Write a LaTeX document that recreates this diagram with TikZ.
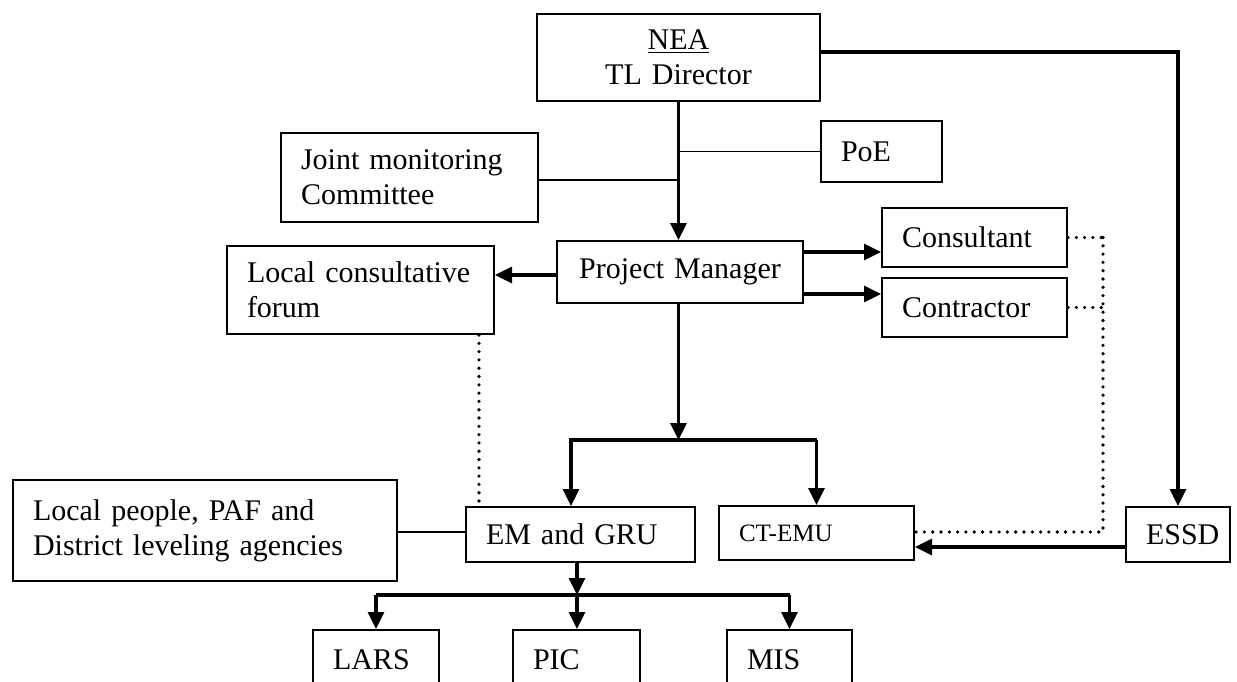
\documentclass[tikz,border=0pt]{standalone}
\usepackage{fontspec}
\setmainfont[WordSpace=0.75]{Liberation Serif}
\usetikzlibrary{arrows.meta}
\begin{document}
\begin{tikzpicture}[x=0.5pt,y=-0.5pt,
  box/.style={draw, line width=1pt, inner sep=0pt, inner xsep=10pt, font=\fontsize{15}{17.5}\selectfont},
  lbox/.style={box, align=left},
  cbox/.style={box, align=center},
  arr/.style={line width=1.6pt, -{Triangle[length=8.5pt,width=8pt]}},
  conn/.style={line width=1.6pt},
  thinc/.style={line width=0.9pt},
  dots/.style={line width=1.8pt, line cap=round, dash pattern=on 0pt off 4.15pt}]
\useasboundingbox (0,0) rectangle (1237,681);
\clip (0,0) rectangle (1237,681);
% nodes
\node[cbox, text width=121.5pt, minimum height=43.5pt] (nea) at (678.5,57.5) {\underline{NEA}\\TL Director};
\node[lbox, text width=40.5pt, minimum height=30.5pt] (poe) at (881.5,151.5) {PoE};
\node[lbox, text width=108.5pt, minimum height=44.5pt] (jmc) at (409.5,177.5) {Joint~monitoring\\Committee};
\node[cbox, text width=103pt, minimum height=31pt] (pm) at (680,272) {Project~Manager};
\node[lbox, text width=113.5pt, minimum height=44pt] (lcf) at (360.5,290) {Local~consultative\\forum};
\node[lbox, text width=72.5pt, minimum height=29.5pt] (cons) at (974.5,237.5) {Consultant};
\node[lbox, text width=72.5pt, minimum height=29.5pt] (cont) at (974.5,307.5) {Contractor};
\node[lbox, text width=172pt, minimum height=50.5pt] (loc) at (205,530.5) {Local~people,~PAF~and\\District~leveling~agencies};
\node[lbox, text width=94.5pt, minimum height=27.5pt] (em) at (580.5,534.5) {EM~and~GRU};
\node[lbox, text width=77.5pt, minimum height=27pt, font=\fontsize{12.5}{15}\selectfont] (ct) at (816.5,533) {CT-EMU};
\node[cbox, text width=32pt, minimum height=27.5pt] (essd) at (1178,534.5) {ESSD};
\node[lbox, text width=43pt, minimum height=30pt] (lars) at (376,660) {LARS};
\node[lbox, text width=43.5pt, minimum height=30pt] (pic) at (576.5,660) {PIC};
\node[lbox, text width=42.5pt, minimum height=30pt] (mis) at (789.5,660) {MIS};
% coordinates
\coordinate (jm) at (678.5,180);
\coordinate (es) at (1178,52);
\coordinate (lf) at (0,275);
\coordinate (c1) at (0,252);
\coordinate (c2) at (0,294);
\coordinate (br) at (678.5,440);
\coordinate (bl) at (571,440);
\coordinate (brr) at (816.5,440);
\coordinate (d1) at (479,0);
\coordinate (dv) at (1103,0);
\coordinate (dc) at (1103,532);
\coordinate (ea) at (0,547);
\coordinate (lm) at (0,532);
\coordinate (eb) at (577,595);
% connectors
\draw[arr] (nea.south) -- (nea.south |- pm.north);
\draw[thinc] (nea.south |- poe.west) -- (poe.west);
\draw[thinc] (jmc.east |- jm) -- (jm);
\draw[arr] (nea.east |- es) -- (es) -- (essd.north);
\draw[arr] (pm.west |- lf) -- (lcf.east |- lf);
\draw[arr] (pm.east |- c1) -- (cons.west |- c1);
\draw[arr] (pm.east |- c2) -- (cont.west |- c2);
\draw[arr] (pm.south -| br) -- (br);
\draw[arr] (brr) -- (bl) -- (bl |- em.north);
\draw[arr] (brr) -- (ct.north);
\draw[dots] (lcf.south -| d1) -- (d1 |- em.north);
\draw[dots] (cons.east) -- (cons.east -| dv);
\draw[dots] (cont.east) -- (cont.east -| dv);
\draw[dots] (cons.east -| dv) -- (dc) -- (ct.east |- dc);
\draw[arr] (essd.west |- ea) -- (ct.east |- ea);
\draw[line width=1.2pt] (loc.east |- lm) -- (em.west |- lm);
\draw[arr] (eb |- em.south) -- (eb);
\draw[conn] (lars.north |- eb) -- (mis.north |- eb);
\draw[arr] (lars.north |- eb) -- (lars.north);
\draw[arr] (eb) -- (pic.north -| eb);
\draw[arr] (mis.north |- eb) -- (mis.north);
\end{tikzpicture}
\end{document}
